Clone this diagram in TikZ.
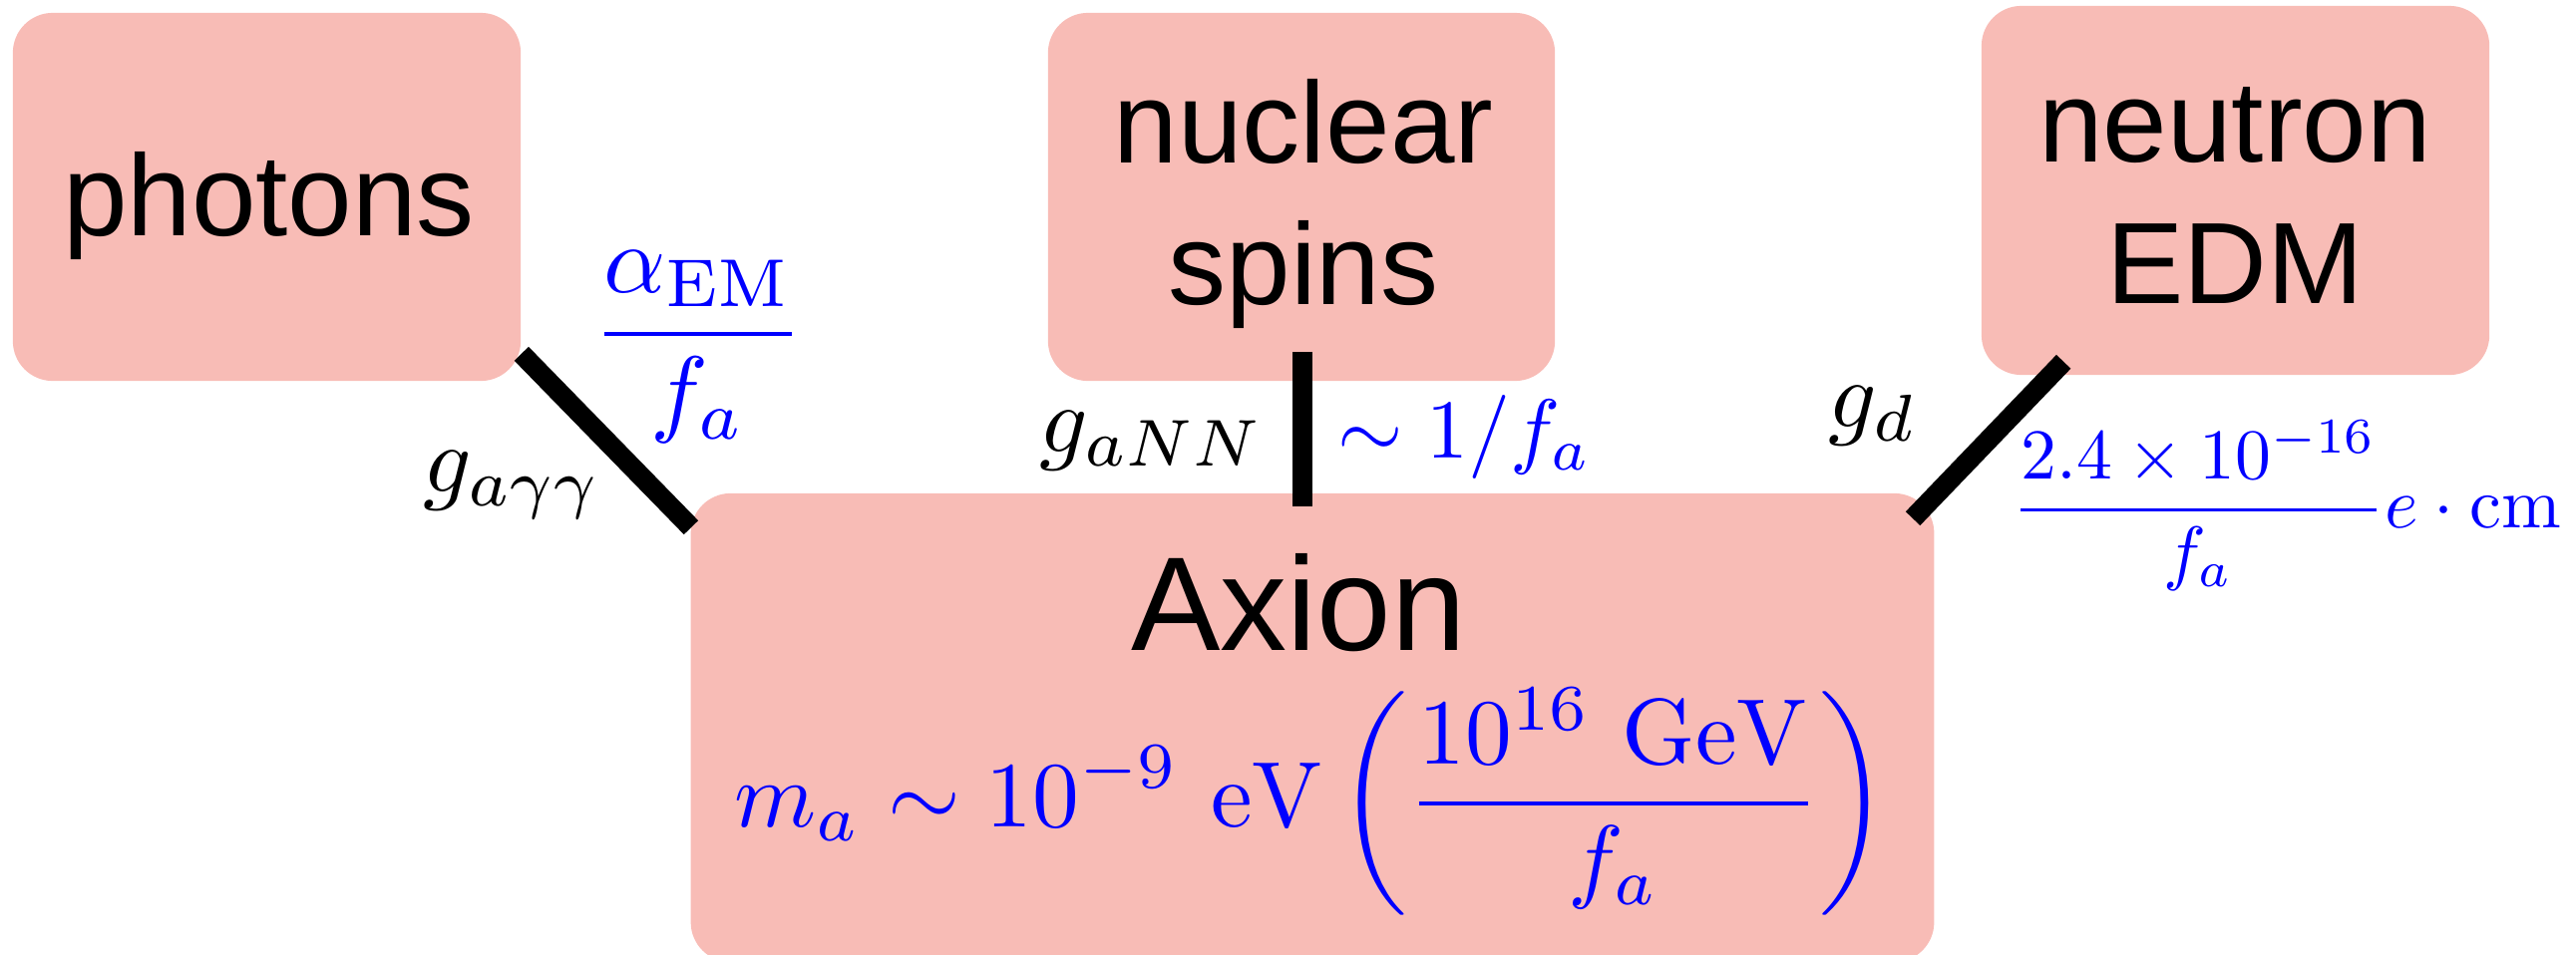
\documentclass[tikz,border=0pt]{standalone}
\usepackage{amsmath}
\usepackage[no-math]{fontspec}
\newfontfamily\boxfont{Liberation Sans}
\usetikzlibrary{calc}
\definecolor{boxpink}{RGB}{248,188,182}
\definecolor{mathblue}{RGB}{0,0,255}
\begin{document}
\begin{tikzpicture}[x=0.01cm,y=-0.01cm,
  box/.style={fill=boxpink, rounded corners=0.4cm, inner sep=0pt},
  boxtext/.style={inner sep=0pt, anchor=base, align=center, font=\boxfont\fontsize{33}{40.1}\selectfont},
  link/.style={line width=0.2cm, line cap=butt},
  lbl/.style={inner sep=0pt, anchor=base, font=\fontsize{10}{12}\selectfont},
]
\useasboundingbox (0,0) rectangle (2583,957);
% boxes
\node[box, minimum width=5.09cm, minimum height=3.69cm] (photons) at (267.5,197.5) {};
\node[box, minimum width=5.08cm, minimum height=3.69cm] (nuclear) at (1305,197.5) {};
\node[box, minimum width=5.09cm, minimum height=3.70cm] (neutron) at (2241.5,191) {};
\node[box, minimum width=12.46cm, minimum height=4.70cm] (axion) at (1316,730) {};
% box texts
\node[boxtext] (tphotons) at (269.5,236) {photons};
\node[boxtext] (tnuclear) at (1307,305) {nuclear\\spins};
\node[boxtext] (tneutron) at (2241,304) {neutron\\EDM};
\node[boxtext, font=\boxfont\fontsize{38.1}{45}\selectfont] (taxion) at (1302,652) {Axion};
\node[lbl, text=mathblue] (mass) at (1315,829.5)
  {\scalebox{2.66}{$\displaystyle m_a \sim 10^{-9}\ \mathrm{eV}\left(\frac{10^{16}\ \mathrm{GeV}}{f_a}\right)$}};
% connectors
\draw[link] ($(photons.south east)+(0,-28)$) -- ($(axion.north west)+(1,35)$);
\draw[link] ($(nuclear.south)+(1,-30)$) -- ($(nuclear.south |- axion.north)+(1,14)$);
\draw[link] ($(neutron.south west)+(83,-14)$) -- ($(axion.north east)+(-22,26)$);
% coupling labels
\node[lbl] (lgagg) at (514,493) {\scalebox{2.7}{$g_{a\gamma\gamma}$}};
\node[lbl, text=mathblue] (lalpha) at (700,359) {\scalebox{2.76}{$\displaystyle\frac{\alpha_{\mathrm{EM}}}{f_a}$}};
\node[lbl] (lganN) at (1155,453) {\scalebox{2.7}{$g_{aNN}$}};
\node[lbl, text=mathblue] (lnn) at (1469,459) {\scalebox{2.39}{$\sim 1/f_a$}};
\node[lbl] (lgd) at (1878,428) {\scalebox{2.7}{$g_d$}};
\node[lbl, text=mathblue] (ledm) at (2293,529) {\scalebox{2.04}{$\displaystyle\frac{2.4\times 10^{-16}}{f_a}e\cdot\mathrm{cm}$}};
\end{tikzpicture}
\end{document}
